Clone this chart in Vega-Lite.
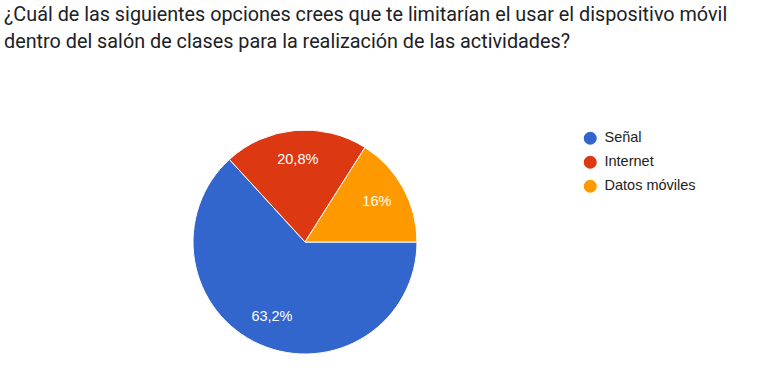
{
  "$schema": "https://vega.github.io/schema/vega-lite/v6.json",
  "autosize": {"type": "none"},
  "width": 224,
  "height": 224,
  "padding": {"left": 193, "top": 130, "right": 349, "bottom": 14},
  "background": "white",
  "title": {
    "text": ["¿Cuál de las siguientes opciones crees que te limitarían el usar el dispositivo móvil", "dentro del salón de clases para la realización de las actividades?"],
    "anchor": "start",
    "frame": "group",
    "dx": -189,
    "offset": 76,
    "font": "Roboto",
    "fontSize": 19.8,
    "fontWeight": "normal",
    "color": "#202124",
    "lineHeight": 27
  },
  "data": {
    "values": [
      {"opcion": "Señal", "valor": 63.2, "etiqueta": "63,2%"},
      {"opcion": "Internet", "valor": 20.8, "etiqueta": "20,8%"},
      {"opcion": "Datos móviles", "valor": 16.0, "etiqueta": "16%"}
    ]
  },
  "encoding": {
    "theta": {"field": "valor", "type": "quantitative", "stack": true, "scale": {"range": [1.5708, 7.854]}},
    "order": {"field": "valor", "sort": "descending"},
    "color": {
      "field": "opcion",
      "type": "nominal",
      "scale": {"domain": ["Señal", "Internet", "Datos móviles"], "range": ["#3366cc", "#dc3912", "#ff9900"]},
      "legend": {
        "title": null,
        "orient": "none",
        "legendX": 390,
        "legendY": 1,
        "symbolType": "circle",
        "symbolSize": 170,
        "symbolStrokeWidth": 0,
        "labelFont": "Liberation Sans",
        "labelFontSize": 14.5,
        "labelColor": "#222222",
        "labelOffset": 7,
        "rowPadding": 9
      }
    }
  },
  "layer": [
    {"mark": {"type": "arc", "outerRadius": 112, "stroke": "white", "strokeWidth": 1}},
    {
      "mark": {"type": "text", "radius": 82, "font": "Liberation Sans", "fontSize": 14.5, "fill": "white", "baseline": "middle", "align": "center"},
      "encoding": {"text": {"field": "etiqueta"}, "color": {"value": "white"}}
    }
  ],
  "config": {"view": {"stroke": null}}
}
